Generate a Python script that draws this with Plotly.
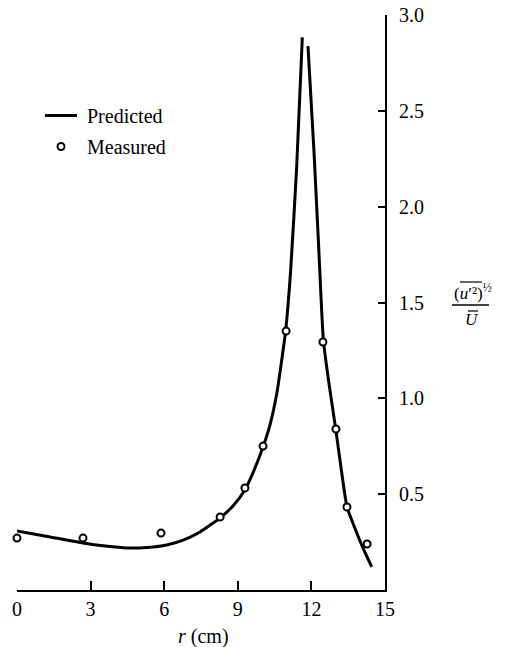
import plotly.graph_objects as go

# Measured data
meas_r = [0.0, 2.69, 5.87, 8.28, 9.29, 10.03, 10.97, 12.47, 13.0, 13.45, 14.27]
meas_u = [0.271, 0.271, 0.297, 0.381, 0.532, 0.751, 1.351, 1.294, 0.840, 0.433, 0.240]

# Predicted curve (two branches separated at the peak)
pred_left_r = [0.0, 1.3, 2.69, 3.6, 4.48, 5.3, 6.1, 6.8, 7.46, 8.28, 8.81, 9.29, 9.63, 10.04, 10.31, 10.59, 10.95, 11.15, 11.4, 11.63]
pred_left_u = [0.308, 0.278, 0.245, 0.229, 0.219, 0.222, 0.235, 0.262, 0.303, 0.376, 0.44, 0.522, 0.615, 0.75, 0.86, 1.026, 1.353, 1.66, 2.208, 2.883]
pred_right_r = [11.86, 12.1, 12.3, 12.49, 12.73, 12.99, 13.2, 13.45, 13.75, 14.1, 14.46]
pred_right_u = [2.838, 2.30, 1.78, 1.30, 1.066, 0.84, 0.645, 0.433, 0.33, 0.22, 0.121]

x_ticks = [0, 3, 6, 9, 12, 15]
y_ticks = [0.5, 1.0, 1.5, 2.0, 2.5, 3.0]
y_ticktext = ["0.5", "1.0", "1.5", "2.0", "2.5", "3.0"]

FONT = "Liberation Serif"

W, H = 509, 647
ML, MT = 17, 15
PW, PH = 368, 575
MR = W - ML - PW
MB = H - MT - PH

def px(xp):
    return (xp - ML) / PW

def py(yp):
    return (MT + PH - yp) / PH

fig = go.Figure()

fig.add_trace(go.Scatter(
    x=pred_left_r + [None] + pred_right_r,
    y=pred_left_u + [None] + pred_right_u,
    mode="lines", name="\u00a0Predicted",
    line=dict(color="black", width=3, shape="spline", smoothing=0.5),
    connectgaps=False, legendgroup="a",
))
fig.add_trace(go.Scatter(
    x=meas_r, y=meas_u, mode="markers", name="\u00a0Measured",
    marker=dict(symbol="circle", size=7, color="white",
                line=dict(color="black", width=2)),
    cliponaxis=False, legendgroup="b",
))

fig.update_layout(
    width=W, height=H,
    margin=dict(l=ML, r=MR, t=MT, b=MB, autoexpand=False),
    paper_bgcolor="white", plot_bgcolor="white",
    font=dict(family=FONT, size=20, color="black"),
    showlegend=True,
    legend=dict(x=px(40), y=py(96), xanchor="left", yanchor="top",
                bgcolor="rgba(0,0,0,0)", font=dict(size=20, family=FONT),
                tracegroupgap=2, itemwidth=32, traceorder="grouped"),
    xaxis=dict(range=[0, 15], tickvals=x_ticks, ticks="inside", ticklen=9,
               tickwidth=2, tickcolor="black", showline=True, linewidth=2,
               linecolor="black", showgrid=False, zeroline=False,
               automargin=False, ticklabeloverflow="allow",
               tickfont=dict(size=20, family=FONT)),
    yaxis=dict(range=[0, 3.0], side="right", tickvals=y_ticks, ticktext=y_ticktext,
               ticks="inside", ticklen=7, tickwidth=2, tickcolor="black",
               showline=True, linewidth=2, linecolor="black", showgrid=False,
               zeroline=False, automargin=False, ticklabeloverflow="allow",
               tickfont=dict(size=20, family=FONT), ticklabelstandoff=8),
)

# X-axis title
fig.add_annotation(xref="paper", yref="paper", x=px(203), y=py(636),
                   text="<i>r</i> (cm)", showarrow=False,
                   font=dict(size=20, family=FONT), xanchor="center", yanchor="middle")

# Y-axis label as a stacked fraction
fig.add_annotation(xref="paper", yref="paper", x=px(473), y=py(292),
                   text="(<i>u</i>′²)<sup>½</sup>", showarrow=False,
                   font=dict(size=17, family=FONT), xanchor="center", yanchor="middle")
fig.add_annotation(xref="paper", yref="paper", x=px(472), y=py(319),
                   text="<i>U</i>", showarrow=False,
                   font=dict(size=17, family=FONT), xanchor="center", yanchor="middle")
fig.add_shape(type="line", xref="paper", yref="paper",
              x0=px(452), x1=px(489), y0=py(305), y1=py(305),
              line=dict(color="black", width=1.3))
fig.add_shape(type="line", xref="paper", yref="paper",
              x0=px(460), x1=px(482), y0=py(282), y1=py(282),
              line=dict(color="black", width=1.2))
fig.add_shape(type="line", xref="paper", yref="paper",
              x0=px(468), x1=px(478), y0=py(311), y1=py(311),
              line=dict(color="black", width=1.2))

fig.write_html("out.html",
               config={"displayModeBar": False},
               post_script="document.body.style.margin='0';document.body.style.overflow='hidden';")
